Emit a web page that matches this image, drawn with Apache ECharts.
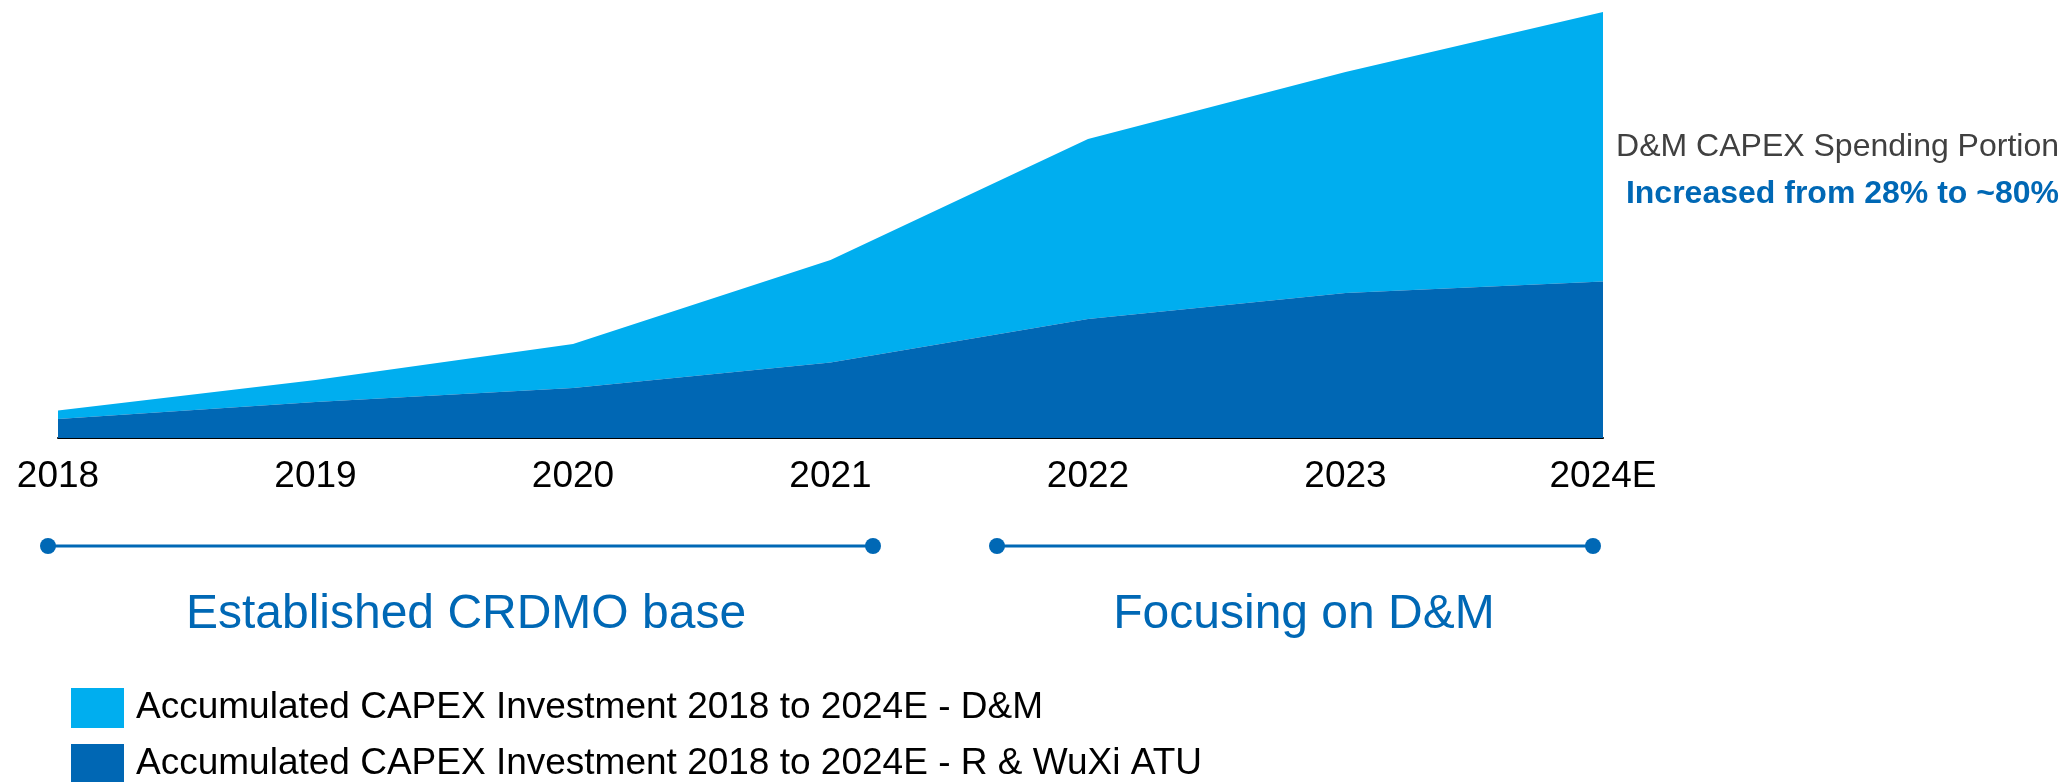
<!DOCTYPE html>
<html>
<head>
<meta charset="utf-8">
<script src="https://cdn.jsdelivr.net/npm/echarts@6/dist/echarts.min.js"></script>
<style>
  html, body { margin: 0; padding: 0; background: #ffffff; }
  #chart { width: 2067px; height: 782px; }
</style>
</head>
<body>
<div id="chart"></div>
<script>
// Years on the horizontal axis
const years = ['2018', '2019', '2020', '2021', '2022', '2023', '2024E'];

// Accumulated CAPEX (index units), stacked: R & WuXi ATU at the bottom, D&M on top
const capexRWuxiATU = [19, 36, 50, 75.5, 119, 145, 156.5];
const capexDM = [8.5, 22, 44, 102.5, 180, 221, 269.5];

const seriesNames = [
  'Accumulated CAPEX Investment 2018 to 2024E - D&M',
  'Accumulated CAPEX Investment 2018 to 2024E - R & WuXi ATU'
];

const phaseLabels = ['Established CRDMO base', 'Focusing on D&M'];
const noteLines = ['D&M CAPEX Spending Portion', 'Increased from 28% to ~80%'];

const FONT = '"Liberation Sans", Arial, Helvetica, sans-serif';
const LIGHT = '#00AEEF';
const DARK = '#0067B4';
const TEXT_BLUE = '#0068B5';

const chart = echarts.init(document.getElementById('chart'));

// Phase timeline: a line with a dot at each end, plus its caption
function phase(x1, x2, y, label, labelX, labelY) {
  return [
    { type: 'line', shape: { x1: x1, y1: y, x2: x2, y2: y },
      style: { stroke: TEXT_BLUE, lineWidth: 3 } },
    { type: 'circle', shape: { cx: x1, cy: y, r: 8 }, style: { fill: TEXT_BLUE } },
    { type: 'circle', shape: { cx: x2, cy: y, r: 8 }, style: { fill: TEXT_BLUE } },
    { type: 'text', x: labelX, y: labelY,
      style: { text: label, fill: TEXT_BLUE, font: '48px ' + FONT,
               textAlign: 'center', textVerticalAlign: 'middle' } }
  ];
}

// One legend block per series, stacked one under the other
function legendRow(name, top) {
  return {
    data: [name],
    orient: 'horizontal',
    left: 66,
    top: top,
    itemWidth: 53,
    itemHeight: 40,
    icon: 'rect',
    selectedMode: false,
    textStyle: { fontFamily: FONT, fontSize: 37, color: '#000000',
                 lineHeight: 40, padding: [10, 0, 0, 7] }
  };
}

chart.setOption({
  animation: false,
  backgroundColor: '#ffffff',
  grid: { left: 58, right: 464, top: 8, bottom: 344 },
  legend: [
    legendRow(seriesNames[0], 678),
    legendRow(seriesNames[1], 734)
  ],
  xAxis: {
    type: 'category',
    data: years,
    boundaryGap: false,
    axisLine: { lineStyle: { color: '#000000', width: 2 } },
    axisTick: { show: false },
    axisLabel: { fontFamily: FONT, fontSize: 37, color: '#000000', margin: 20 }
  },
  yAxis: {
    type: 'value',
    min: 0,
    max: 430,
    show: false,
    splitLine: { show: false }
  },
  series: [
    {
      name: seriesNames[1],
      type: 'line',
      stack: 'capex',
      data: capexRWuxiATU,
      symbol: 'none',
      lineStyle: { width: 0 },
      itemStyle: { color: DARK },
      areaStyle: { color: DARK, opacity: 1 },
      z: 2
    },
    {
      name: seriesNames[0],
      type: 'line',
      stack: 'capex',
      data: capexDM,
      symbol: 'none',
      lineStyle: { width: 0 },
      itemStyle: { color: LIGHT },
      areaStyle: { color: LIGHT, opacity: 1 },
      z: 1
    }
  ],
  graphic: [
    ...phase(48, 873, 546, phaseLabels[0], 466, 615),
    ...phase(997, 1593, 546, phaseLabels[1], 1304, 615),
    { type: 'text', x: 2059, y: 147,
      style: { text: noteLines[0], fill: '#404040', font: '32px ' + FONT,
               textAlign: 'right', textVerticalAlign: 'middle' } },
    { type: 'text', x: 2059, y: 194,
      style: { text: noteLines[1], fill: TEXT_BLUE, font: 'bold 32px ' + FONT,
               textAlign: 'right', textVerticalAlign: 'middle' } }
  ]
});
</script>
</body>
</html>
